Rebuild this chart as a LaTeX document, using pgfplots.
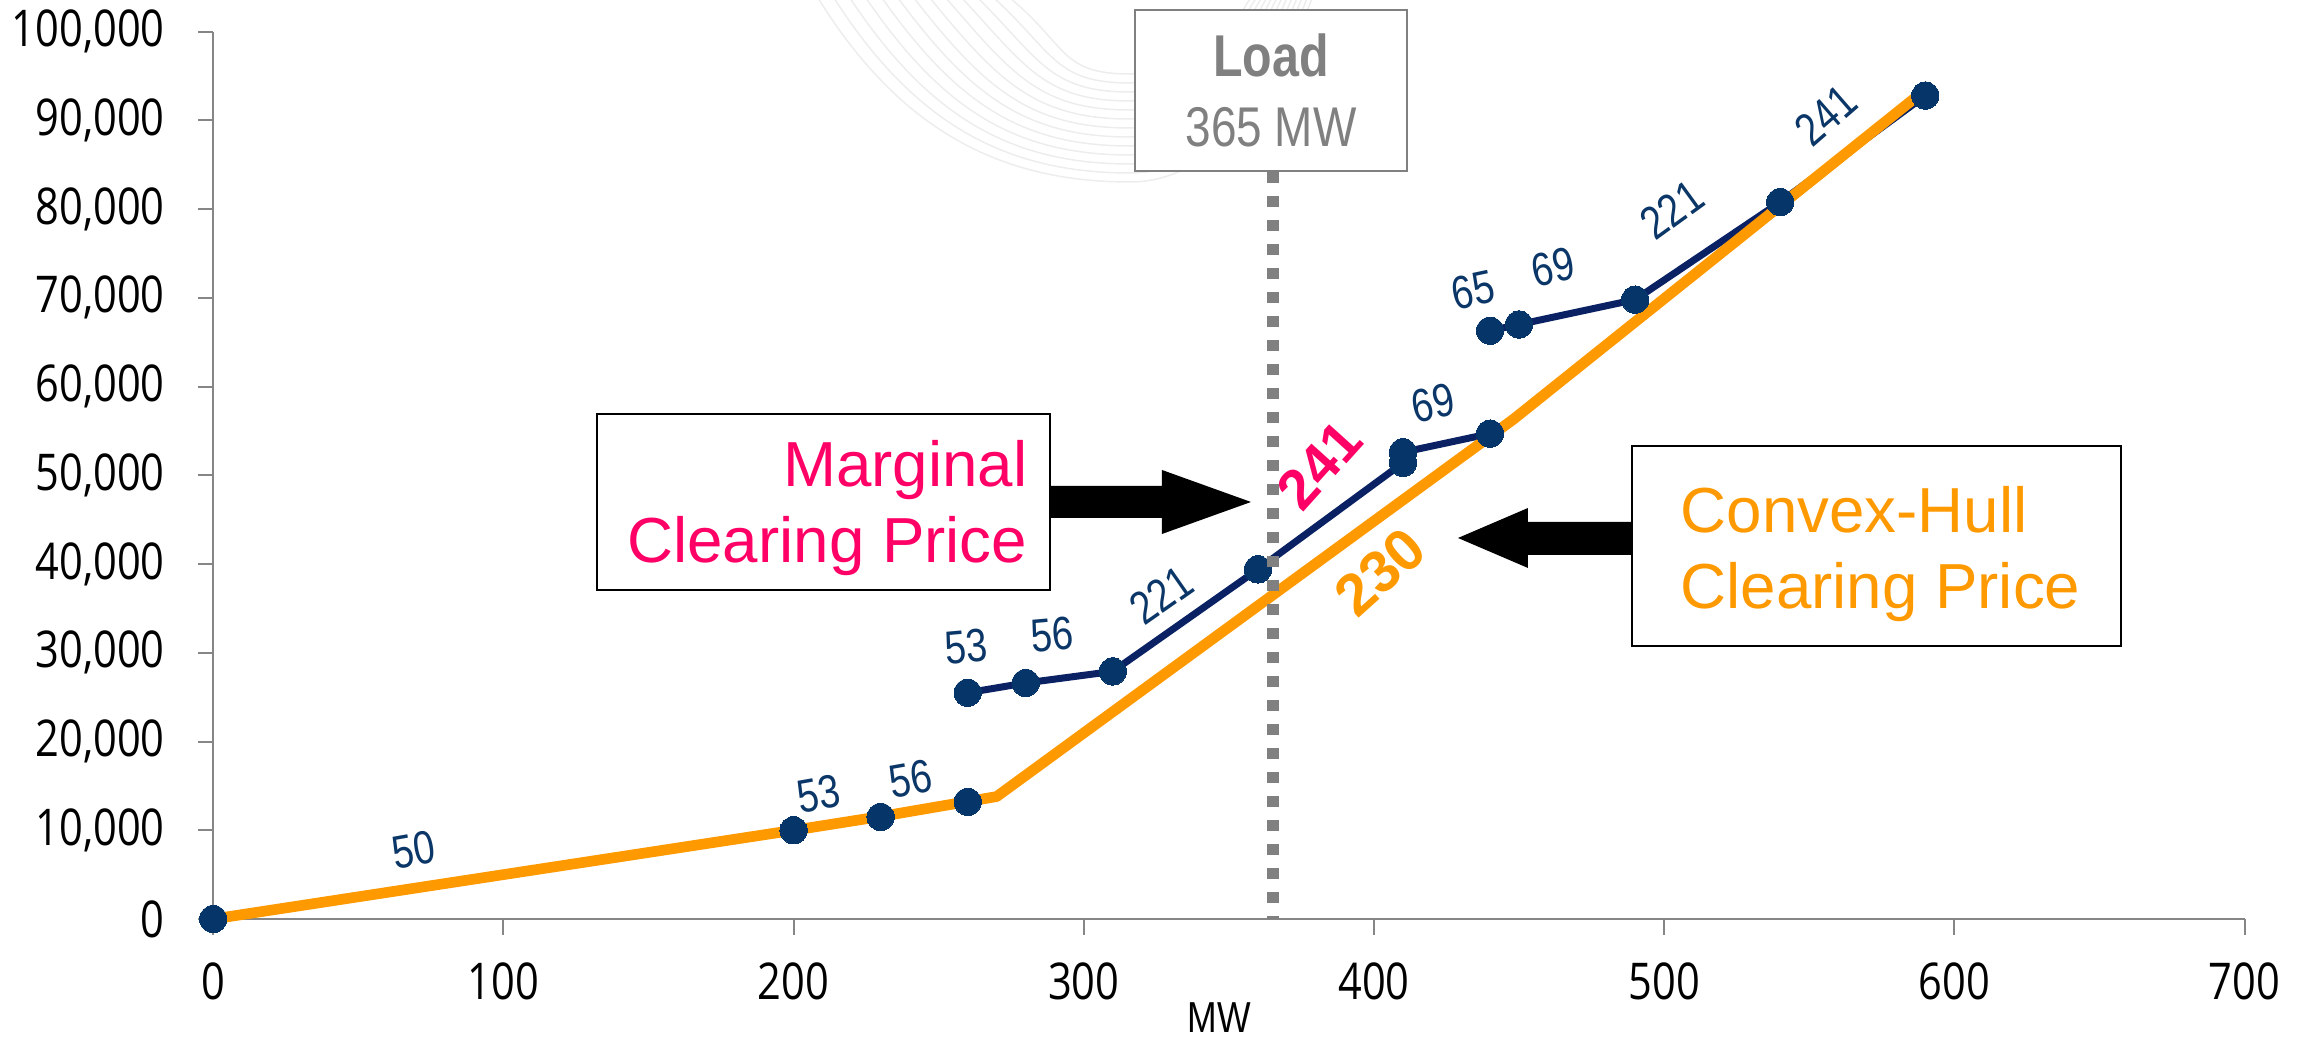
\documentclass[border=0pt]{standalone}
\usepackage{pgfplots}
\pgfplotsset{compat=1.18}
\usepackage{fontspec}
\setmainfont{Liberation Sans}
\newfontfamily\tickfont[FakeStretch=0.82]{Open Sans}
\newfontfamily\narrowfont[FakeStretch=0.82]{Liberation Sans}

\definecolor{navyline}{HTML}{0A2263}
\definecolor{markblue}{HTML}{06356A}
\definecolor{labelblue}{HTML}{0B3668}
\definecolor{hullorange}{HTML}{FF9900}
\definecolor{pricepink}{HTML}{FF0066}
\definecolor{axisgray}{HTML}{868686}
\definecolor{loadgray}{HTML}{808080}

\begin{document}
\begin{tikzpicture}
\path[use as bounding box] (0,0) rectangle (691.5bp,313.5bp);

% faint background swirl
\begin{scope}[x=0.3bp, y=-0.3bp, shift={(0bp,313.5bp)}]
  \foreach \i in {0,...,12} {
    \draw[black!7, line width=0.45bp]
      (818+16*\i, -2) .. controls (900+14*\i, 130-7*\i) and (1000+5*\i, 182-9*\i)
      .. (1130, 182-9*\i) .. controls (1230, 182-9*\i) and (1290-4*\i, 60-5*\i)
      .. (1312-5*\i, -2);
  }
\end{scope}

\begin{axis}[
  at={(63.96bp,37.8bp)}, anchor=south west,
  scale only axis, width=609.4bp, height=266.2bp,
  xmin=0, xmax=700, ymin=0, ymax=100000,
  axis x line=bottom, axis y line=left,
  axis line style={-, draw=axisgray, line width=0.6bp},
  tick style={draw=axisgray, line width=0.6bp},
  tick align=outside, major tick length=4.7bp,
  xtick={0,100,...,700}, ytick={0,10000,...,100000},
  scaled x ticks=false, scaled y ticks=false,
  xticklabels={0,100,200,300,400,500,600,700},
  yticklabels={0,{10,000},{20,000},{30,000},{40,000},{50,000},{60,000},{70,000},{80,000},{90,000},{100,000}},
  ticklabel style={font=\tickfont\fontsize{15.2bp}{18bp}\selectfont, inner sep=0pt, text=black},
  xticklabel shift=8.3bp,
  yticklabel shift=9.7bp,
  clip=false,
]
% marginal (offer) curve, drawn in three pieces
\pgfplotsset{offer/.style={color=navyline, line width=2.1bp, line join=round,
    mark=*, mark size=4.1bp, mark options={fill=markblue, draw=markblue, line width=0pt}}}
\addplot[offer] coordinates {(0,0) (200,10000) (230,11500) (260,13200)};
\addplot[offer] coordinates {(260,25500) (280,26600) (310,27900) (360,39400)
  (410,51400) (410,52600) (440,54700)};
\addplot[offer] coordinates {(440,66300) (450,67000) (490,69800) (540,80800) (590,92800)};
% convex hull
\addplot[color=hullorange, line width=3.2bp, line join=round, mark=none]
  coordinates {(0,0) (200,10000) (230,11550) (270,13800) (448,56300) (589,93200)};
\end{axis}

\begin{scope}[x=0.3bp, y=-0.3bp, shift={(0bp,313.5bp)}]
  % load marker
  \draw[loadgray, line width=3.6bp, dash pattern=on 3.4bp off 3.8bp] (1273,172) -- (1273,919);
  \draw[loadgray, line width=0.6bp, fill=white] (1135,10) rectangle (1407,171);
  \node[anchor=base, inner sep=0pt, text=loadgray,
        font=\narrowfont\bfseries\fontsize{17.7bp}{20bp}\selectfont] at (1271,77) {Load};
  \node[anchor=base, inner sep=0pt, text=loadgray,
        font=\narrowfont\fontsize{16.8bp}{20bp}\selectfont] at (1271,147) {365 MW};

  % price labels on the offer curve
  \tikzset{plab/.style={text=labelblue, font=\narrowfont\fontsize{14bp}{16bp}\selectfont, inner sep=0pt}}
  \node[plab, rotate=10] at (414,850) {50};
  \node[plab, rotate=10] at (819,794) {53};
  \node[plab, rotate=10] at (911,779) {56};
  \node[plab, rotate=5]  at (966,647) {53};
  \node[plab, rotate=5]  at (1052,635) {56};
  \node[plab, rotate=35] at (1161,595) {221};
  \node[plab, rotate=12] at (1433,403) {69};
  \node[plab, rotate=12] at (1473,290) {65};
  \node[plab, rotate=12] at (1553,267) {69};
  \node[plab, rotate=36] at (1672,210) {221};
  \node[plab, rotate=41] at (1826,115) {241};

  % clearing prices
  \node[rotate=48, inner sep=0pt, text=pricepink,
        font=\bfseries\fontsize{17bp}{19bp}\selectfont] at (1319,465) {241};
  \node[rotate=42, inner sep=0pt, text=hullorange,
        font=\bfseries\fontsize{17.6bp}{20bp}\selectfont] at (1380,572) {230};

  % marginal clearing price call-out
  \draw[black, line width=0.8bp, fill=white] (597,414) rectangle (1050,590);
  \node[anchor=base east, inner sep=0pt, text=pricepink,
        font=\fontsize{19.1bp}{22bp}\selectfont] at (1028,487) {Marginal};
  \node[anchor=base east, inner sep=0pt, text=pricepink,
        font=\fontsize{19.1bp}{22bp}\selectfont] at (1028,563) {Clearing Price};
  \fill[black] (1050,486) -- (1162,486) -- (1162,470) -- (1251,502)
    -- (1162,534) -- (1162,518) -- (1050,518) -- cycle;

  % convex-hull clearing price call-out
  \draw[black, line width=0.8bp, fill=white] (1632,446) rectangle (2121,646);
  \node[anchor=base west, inner sep=0pt, text=hullorange,
        font=\fontsize{19.1bp}{22bp}\selectfont] at (1680,533) {Convex-Hull};
  \node[anchor=base west, inner sep=0pt, text=hullorange,
        font=\fontsize{19.1bp}{22bp}\selectfont] at (1680,609) {Clearing Price};
  \fill[black] (1632,522) -- (1528,522) -- (1528,508) -- (1458,538)
    -- (1528,568) -- (1528,555) -- (1632,555) -- cycle;

  % axis title
  \node[anchor=base, inner sep=0pt,
        font=\narrowfont\fontsize{13bp}{15bp}\selectfont] at (1219,1033) {MW};
\end{scope}
\end{tikzpicture}
\end{document}
